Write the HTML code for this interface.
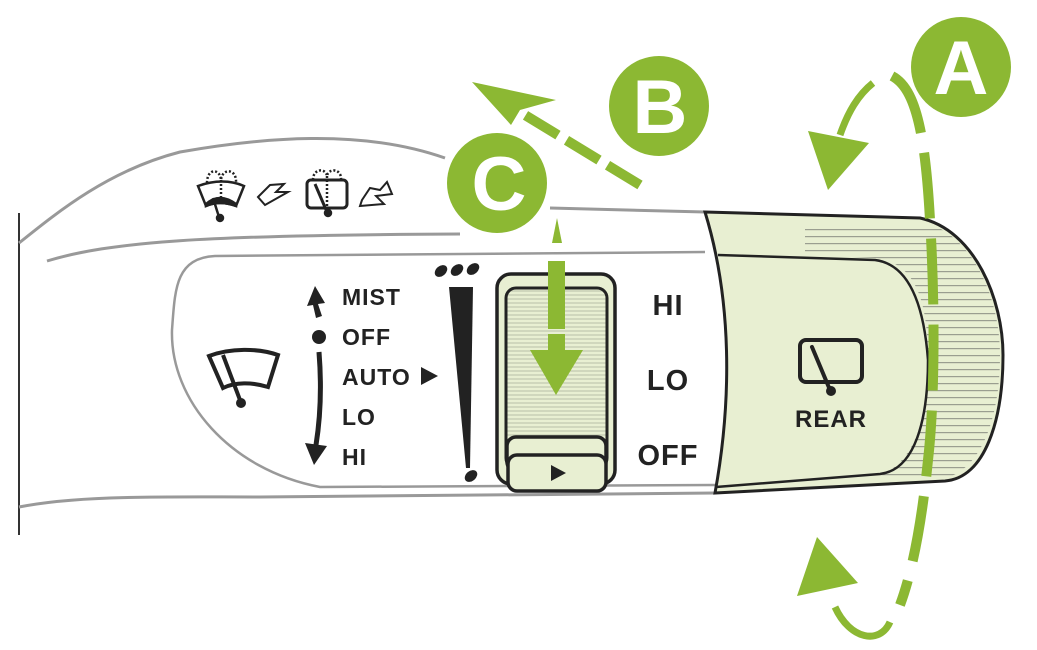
<!DOCTYPE html>
<html><head><meta charset="utf-8"><style>
html,body{margin:0;padding:0;background:#fff}
svg{display:block}
.lb{font-family:"Liberation Sans",sans-serif;font-weight:bold;letter-spacing:1px}
.big{font-family:"Liberation Sans",sans-serif;font-weight:bold}
</style></head><body>
<svg width="1037" height="650" viewBox="0 0 1037 650" xmlns="http://www.w3.org/2000/svg">
<defs>
<pattern id="hl" width="4" height="4" patternUnits="userSpaceOnUse"><rect width="4" height="4" fill="#e8efd2"/><rect y="2.5" width="4" height="1" fill="#b9bfa8"/></pattern>
<pattern id="hl2" width="6" height="7" patternUnits="userSpaceOnUse"><rect width="6" height="7" fill="#e8efd2"/><rect y="5" width="6" height="1.2" fill="#9a9e90"/></pattern>
</defs>
<line x1="19" y1="213" x2="19" y2="535" stroke="#333" stroke-width="2"/>
<path d="M19,243 C60,210 110,170 180,152 C260,138 360,128 445,158" fill="none" stroke="#999" stroke-width="3"/>
<path d="M47,261 C110,242 200,235 460,234" fill="none" stroke="#999" stroke-width="3"/>
<path d="M550,208 L705,212" fill="none" stroke="#999" stroke-width="3"/>
<path d="M705,252 L215,256 C175,258 175,290 172,330 C170,400 230,470 320,487 L715,485" fill="none" stroke="#999" stroke-width="2.5"/>
<path d="M19,507 C80,495 160,497 260,497 L715,493" fill="none" stroke="#999" stroke-width="3"/>
<path d="M705,212 L920,218 C975,230 1003,300 1003,355 C1003,420 985,478 945,481 L715,493 C732,400 732,300 705,212 Z" fill="#e8efd2" stroke="#222" stroke-width="3"/>
<path d="M930,224 C975,240 1000,300 1000,355 C1000,420 980,470 945,478 L880,476 C915,460 928,420 928,360 C928,300 915,262 875,258 L805,255 L805,224 Z" fill="url(#hl2)"/>
<path d="M718,255 L875,260 C915,265 925,320 928,360 C928,420 915,470 880,474 L716,487" fill="none" stroke="#222" stroke-width="2.5"/>
<rect x="800" y="340" width="62" height="42" rx="6" fill="none" stroke="#222" stroke-width="4"/>
<line x1="812" y1="347" x2="830" y2="390" stroke="#222" stroke-width="4" stroke-linecap="round"/>
<circle cx="831" cy="391" r="5" fill="#222"/>
<text class="lb" x="831" y="427" font-size="24" text-anchor="middle" fill="#222">REAR</text>
<g stroke="#222" fill="none" stroke-width="2.5">
<path d="M198,186 C215,180 230,180 244,186 L236,206 C225,202 215,202 206,206 Z"/>
<path d="M206,204 C215,196 225,196 236,204 L236,206 C225,202 215,202 206,206 Z" fill="#222"/>
<line x1="213" y1="198" x2="219" y2="217"/><circle cx="220" cy="218" r="3" fill="#222"/>
<path d="M207,183 C207,168 220,168 221,180 C222,168 237,168 236,183" stroke-dasharray="2 2"/>
<line x1="221" y1="180" x2="221" y2="200" stroke-dasharray="2 2"/>
<path d="M258,197 L270,185 L284,184 L276,192 L288,192 L265,205 Z" stroke-width="2"/>
<rect x="307" y="180" width="40" height="28" rx="4" stroke-width="3"/>
<line x1="315" y1="184" x2="327" y2="212" stroke-width="3"/><circle cx="328" cy="213" r="3" fill="#222"/>
<path d="M313,180 C313,168 326,168 327,176 C328,168 342,168 341,180" stroke-dasharray="2 2"/>
<line x1="327" y1="176" x2="327" y2="208" stroke-dasharray="2 2"/>
<path d="M362,200 L370,188 L380,190 L387,182 L392,194 L376,196 L384,204 L360,206 Z" stroke-width="2"/>
</g>
<path d="M209,356 C230,348 258,348 278,355 L268,387 C252,382 235,382 223,388 Z" fill="none" stroke="#222" stroke-width="4"/>
<line x1="223" y1="355" x2="240" y2="400" stroke="#222" stroke-width="4"/>
<circle cx="241" cy="403" r="5" fill="#222"/>
<path d="M315,286 L307,306 L313,305 L316,318 L322,316 L318,304 L325,303 Z" fill="#222"/>
<circle cx="319" cy="337" r="7" fill="#222"/>
<path d="M319,352 C322,390 320,420 316,445" fill="none" stroke="#222" stroke-width="5"/>
<path d="M305,443 L327,446 L314,465 Z" fill="#222"/>
<g class="lb" font-size="23" fill="#222">
<text x="342" y="305">MIST</text>
<text x="342" y="345">OFF</text>
<text x="342" y="385">AUTO</text>
<text x="342" y="425">LO</text>
<text x="342" y="465">HI</text>
</g>
<path d="M421,367 L438,376 L421,385 Z" fill="#222"/>
<path d="M449,287 L473,287 L470,468 L466,468 Z" fill="#222"/>
<g fill="#222">
<ellipse cx="441" cy="271" rx="5" ry="7" transform="rotate(50 441 271)"/>
<ellipse cx="457" cy="270" rx="5" ry="7" transform="rotate(50 457 270)"/>
<ellipse cx="473" cy="269" rx="5" ry="7" transform="rotate(50 473 269)"/>
<ellipse cx="471" cy="476" rx="5" ry="7" transform="rotate(50 471 476)"/>
</g>
<rect x="497" y="274" width="118" height="210" rx="14" fill="#e8efd2" stroke="#222" stroke-width="3.5"/>
<rect x="506" y="288" width="101" height="180" rx="10" fill="url(#hl)" stroke="#222" stroke-width="3"/>
<rect x="507" y="437" width="99" height="34" rx="9" fill="#e8efd2" stroke="#222" stroke-width="3.5"/>
<rect x="508" y="455" width="98" height="36" rx="9" fill="#e8efd2" stroke="#222" stroke-width="3.5"/>
<path d="M551,465 L566,473 L551,481 Z" fill="#222"/>
<g class="lb" font-size="29" text-anchor="middle" fill="#222">
<text x="668" y="315">HI</text>
<text x="668" y="390">LO</text>
<text x="668" y="465">OFF</text>
</g>
<g fill="#8cb833">
<path d="M557,218 L562,243 L552,243 Z"/>
<rect x="548" y="261" width="17" height="68"/>
<rect x="548" y="334" width="17" height="18"/>
<path d="M530,350 L583,350 L556,395 Z"/>
<path d="M472,82 L556,100 L520,110 L511,125 Z"/>
<path d="M808,131 L869,143 L828,190 Z"/>
<path d="M817,537 L858,583 L797,596 Z"/>
</g>
<line x1="640" y1="185" x2="520" y2="112" stroke="#8cb833" stroke-width="10" stroke-dasharray="38 10"/>
<path d="M873,83 C858,95 848,112 840,135" fill="none" stroke="#8cb833" stroke-width="7"/>
<path d="M892,76 C915,88 925,130 930,220 C935,300 935,400 928,460 C922,520 913,570 900,605" fill="none" stroke="#8cb833" stroke-width="10" stroke-dasharray="66 20"/>
<path d="M890,622 C880,645 850,640 835,607" fill="none" stroke="#8cb833" stroke-width="7"/>
<circle cx="961" cy="67" r="50" fill="#8cb833"/>
<circle cx="659" cy="106" r="50" fill="#8cb833"/>
<circle cx="497" cy="183" r="50" fill="#8cb833"/>
<g class="big" font-size="76" fill="#fff" text-anchor="middle">
<text x="961" y="94">A</text>
<text x="660" y="133">B</text>
<text x="499" y="210">C</text>
</g>
</svg>
</body></html>
